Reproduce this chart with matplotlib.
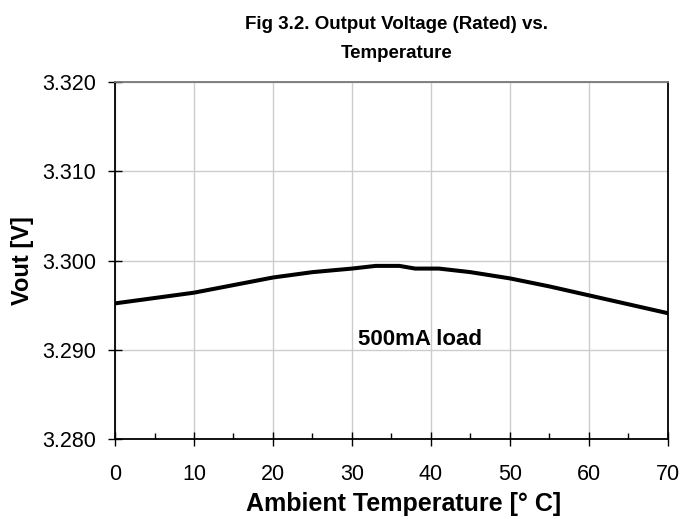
import matplotlib
matplotlib.use("Agg")
import matplotlib.pyplot as plt
from matplotlib.ticker import MultipleLocator, FormatStrFormatter

plt.rcParams["font.family"] = ["Liberation Sans", "DejaVu Sans"]

# Vout vs ambient temperature, 500mA load
temps = [0, 10, 20, 25, 30, 33, 36, 38, 41, 45, 50, 55, 60, 70]
vout = [3.2952, 3.2964, 3.2981, 3.2987, 3.2991, 3.2994, 3.2994,
        3.2991, 3.2991, 3.2987, 3.2980, 3.2971, 3.2961, 3.2941]

TITLE = "Fig 3.2. Output Voltage (Rated) vs.\nTemperature"
X_LABEL = "Ambient Temperature [° C]"
Y_LABEL = "Vout [V]"
NOTE = "500mA load"

fig = plt.figure(figsize=(6.95, 5.19), dpi=100)
ax = fig.add_axes([0.1655, 0.154, 0.7955, 0.688])

ax.plot(temps, vout, color="black", linewidth=2.9, solid_joinstyle="round")

ax.set_xlim(0, 70)
ax.set_ylim(3.280, 3.320)
ax.xaxis.set_major_locator(MultipleLocator(10))
ax.xaxis.set_minor_locator(MultipleLocator(5))
ax.yaxis.set_major_locator(MultipleLocator(0.01))
ax.yaxis.set_major_formatter(FormatStrFormatter("%.3f"))

ax.grid(True, which="major", color="#cccccc", linewidth=1.0)
ax.set_axisbelow(True)

ax.tick_params(axis="both", which="major", direction="inout", length=9.5,
               width=1.0, labelsize=15.5, color="black")
ax.tick_params(axis="x", which="major", pad=13)
ax.tick_params(axis="y", which="major", pad=9)
ax.tick_params(axis="x", which="minor", direction="in", length=4, width=1.0)

for side in ["left", "bottom", "right"]:
    ax.spines[side].set_color("black")
    ax.spines[side].set_linewidth(1.3)
ax.spines["top"].set_color("#777777")
ax.spines["top"].set_linewidth(1.3)

ax.set_title(TITLE, fontsize=13.5, fontweight="bold", pad=17,
             linespacing=1.95, x=0.51)
ax.set_xlabel(X_LABEL, fontsize=18, fontweight="bold", labelpad=5)
ax.xaxis.label.set_x(0.522)
ax.set_ylabel(Y_LABEL, fontsize=17, fontweight="bold", labelpad=6)

ax.text(38.6, 3.2912, NOTE, fontsize=16, fontweight="bold",
        ha="center", va="center")

fig.savefig("out.png", dpi=100)
